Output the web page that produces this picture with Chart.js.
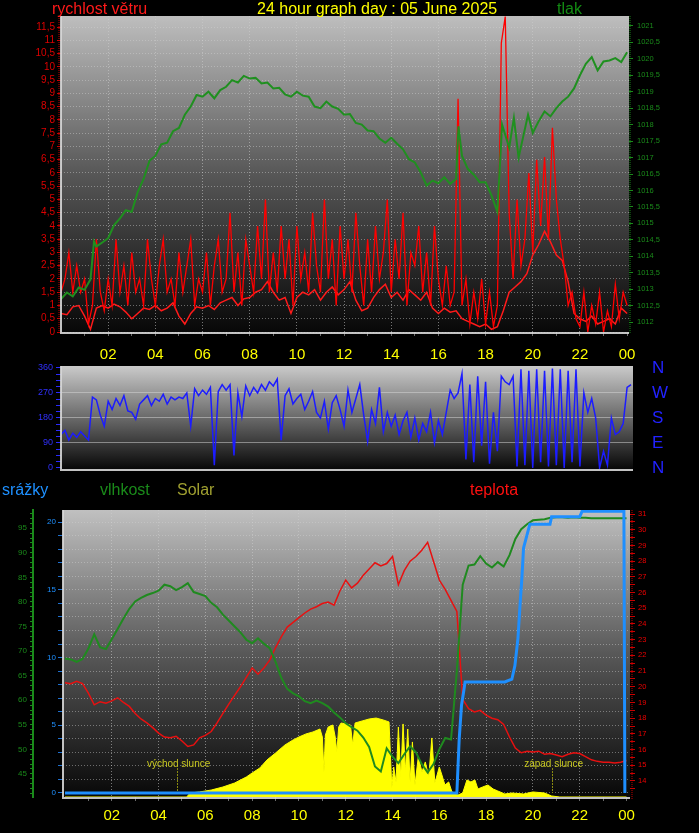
<!DOCTYPE html>
<html><head><meta charset="utf-8">
<script src="https://cdn.jsdelivr.net/npm/chart.js@4/dist/chart.umd.min.js"></script>
<style>
html,body{margin:0;padding:0;background:#000;width:699px;height:833px;overflow:hidden;}
canvas{position:absolute;left:0;}
.t{position:absolute;font-family:Arial,"Liberation Sans",sans-serif;font-size:16px;line-height:16px;white-space:nowrap;}
</style></head><body>
<canvas id="c1" style="top:0" width="699" height="365"></canvas>
<canvas id="c2" style="top:340px" width="699" height="150"></canvas>
<canvas id="c3" style="top:480px" width="699" height="353"></canvas>
<div class="t" style="left:52px;top:1px;color:#ff1a1a">rychlost větru</div>
<div class="t" style="left:257px;top:1px;color:#ffff00">24 hour graph day : 05 June 2025</div>
<div class="t" style="left:557px;top:1px;color:#138a13">tlak</div>
<div class="t" style="left:2px;top:482px;color:#1e90ff">srážky</div>
<div class="t" style="left:100px;top:482px;color:#1a8a1a">vlhkost</div>
<div class="t" style="left:177px;top:482px;color:#a0a030">Solar</div>
<div class="t" style="left:470px;top:482px;color:#ff1010">teplota</div>
<script>
// ---------- DATA ----------
const hourTicks = [1,2,3,4,5,6,7,8,9,10,11,12,13,14,15,16,17,18,19,20,21,22,23,24];
const hourLabels = {2:'02',4:'04',6:'06',8:'08',10:'10',12:'12',14:'14',16:'16',18:'18',20:'20',22:'22',24:'00'};

// wind gusts, every 10 minutes (m/s)
const windGust = [
 1.5,2.0,3.0,1.5,2.5,1.5, 2.0,0.3,1.0,3.5,1.5,0.8, 2.0,1.0,3.5,1.5,2.5,1.0, 3.0,1.5,2.0,1.0,3.5,2.0,
 1.0,2.5,3.5,1.5,2.0,1.0, 3.0,1.5,2.5,3.5,1.0,2.0, 1.5,3.0,1.0,2.5,3.5,1.5, 2.0,4.5,1.5,3.0,1.0,3.5,
 2.5,1.5,4.0,2.0,5.0,1.5, 3.0,1.5,4.0,2.0,3.5,1.0, 4.0,2.0,3.0,1.5,4.5,2.5, 1.5,5.0,2.0,3.5,1.0,4.0,
 2.0,3.5,1.5,4.5,2.5,1.0, 3.5,1.5,4.0,2.0,3.0,5.0, 1.5,3.5,2.0,4.5,1.0,3.0, 2.5,4.0,1.5,3.0,1.0,4.0,
 2.0,1.0,2.5,1.0,1.5,8.8, 1.0,2.0,0.3,1.5,0.5,2.0, 0.3,1.5,0.2,1.0,10.9,11.9, 4.5,2.0,5.0,2.5,3.5,6.0,
 3.0,6.5,4.0,6.6,3.5,7.7, 5.0,3.5,2.5,1.0,1.5,0.5, 0.2,1.5,0.0,1.0,0.3,1.5, 0.0,0.8,0.2,1.8,0.5,1.5,
 1.0];
// average wind, every 15 minutes (m/s)
const windAvg = [
 0.7,0.65,0.95,1.0, 0.6,0.1,0.9,1.0, 0.9,1.05,0.95,0.75, 0.5,0.7,0.9,0.85, 1.0,0.8,0.9,1.1, 0.6,0.3,0.7,0.95,
 0.9,1.0,0.85,1.1, 1.2,1.3,1.0,1.25, 1.3,1.5,1.6,1.9, 1.5,1.2,1.3,0.7, 1.3,1.5,1.4,1.6, 1.2,1.5,1.7,1.4,
 1.6,1.9,1.2,0.8, 0.9,1.3,1.6,1.8, 1.3,1.5,1.2,1.6, 1.4,1.2,1.5,0.9, 0.7,0.9,0.75,0.8, 0.5,0.4,0.3,0.2,
 0.3,0.1,0.2,0.8, 1.5,1.7,1.9,2.2, 2.9,3.3,3.8,3.4, 2.9,2.7,1.9,0.7, 0.5,0.4,0.6,0.3, 0.4,0.5,0.3,0.9,
 0.7];
// pressure [hour, hPa]
const pressure = [
 [0,1012.70],[0.25,1012.90],[0.5,1012.78],[0.75,1013.05],[1,1012.98],[1.25,1013.30],[1.4,1014.45],[1.5,1014.30],
 [1.75,1014.42],[2,1014.55],[2.25,1014.95],[2.5,1015.15],[2.75,1015.40],[3,1015.35],[3.25,1015.95],[3.5,1016.35],
 [3.75,1016.90],[4,1017.05],[4.25,1017.40],[4.5,1017.45],[4.75,1017.80],[5,1017.90],[5.25,1018.30],[5.5,1018.55],
 [5.75,1018.90],[6,1018.85],[6.25,1019.00],[6.5,1018.80],[6.75,1019.05],[7,1019.15],[7.25,1019.35],[7.5,1019.28],
 [7.75,1019.48],[8,1019.40],[8.25,1019.42],[8.5,1019.25],[8.75,1019.28],[9,1019.10],[9.25,1019.12],[9.5,1018.92],
 [9.75,1018.85],[10,1019.00],[10.25,1018.88],[10.5,1018.85],[10.75,1018.55],[11,1018.50],[11.25,1018.70],[11.5,1018.55],
 [11.75,1018.48],[12,1018.30],[12.25,1018.32],[12.5,1018.05],[12.75,1018.00],[13,1017.82],[13.25,1017.80],[13.5,1017.58],
 [13.75,1017.45],[14,1017.60],[14.25,1017.42],[14.5,1017.25],[14.75,1016.95],[15,1016.85],[15.25,1016.55],[15.5,1016.15],
 [15.75,1016.30],[16,1016.22],[16.25,1016.40],[16.5,1016.20],[16.75,1016.35],[16.85,1017.95],[17,1017.05],[17.25,1016.65],
 [17.5,1016.48],[17.75,1016.25],[18,1016.25],[18.25,1015.85],[18.5,1015.35],[18.7,1018.00],[19,1017.30],[19.2,1018.20],
 [19.4,1017.00],[19.6,1017.65],[19.8,1018.30],[20,1017.75],[20.25,1018.10],[20.5,1018.40],[20.75,1018.25],[21,1018.50],
 [21.25,1018.70],[21.5,1018.85],[21.75,1019.10],[22,1019.50],[22.25,1019.85],[22.5,1020.05],[22.75,1019.65],[23,1019.92],
 [23.25,1019.95],[23.5,1020.02],[23.75,1019.90],[24,1020.20]];
// wind direction, every 10 minutes (degrees)
const windDir = [
 120,135,100,125,110,130, 115,100,255,245,190,150, 240,210,250,225,260,205, 200,175,230,245,260,225,
 250,240,265,230,255,245, 255,250,270,150,285,260, 280,265,290,10,275,300, 280,300,45,270,185,295,
 260,290,270,300,280,310, 295,320,100,260,285,230, 250,265,210,240,275,200, 180,240,140,235,260,210,
 150,280,200,250,300,190, 95,210,160,290,130,200, 150,190,120,170,200,110, 180,100,160,130,200,90,
 170,120,200,280,250,270, 340,30,300,20,330,80, 310,15,200,60,330,310, 300,330,5,355,10,350,
 0,355,20,350,5,358, 10,355,0,350,20,355, 5,270,200,250,180,0, 60,10,180,120,130,160,
 290,300];
// humidity, every 15 minutes (%)
const humidity = [
 68.5,68.3,67.8,68.4, 70.5,73.4,70.8,70.4, 72.4,74.5,76.6,78.6, 80.1,80.8,81.4,81.8, 82.3,83.5,83.2,82.4,
 83.0,83.8,82.0,81.6, 81.2,79.8,78.9,77.4, 76.2,75.0,73.8,72.3, 71.6,72.6,71.5,70.6, 67.8,64.5,62.3,61.4,
 60.8,59.8,59.4,59.9, 59.4,58.7,57.5,56.5, 55.3,54.5,53.8,52.4, 50.5,46.5,45.5,50.2, 48.5,47.2,49.0,50.6,
 49.4,47.0,45.3,47.0, 50.0,52.3,52.0,66.0, 83.5,87.4,87.6,89.3, 87.8,87.0,88.1,87.2, 89.5,92.8,94.8,95.8,
 96.6,96.7,96.8,97.1, 97.2,97.2,97.1,97.2, 97.1,97.1,97.0,97.0, 97.0,97.0,97.0,97.0, 97.0];
// temperature, every 15 minutes (°C)
const temperature = [
 20.25,20.2,20.35,20.2, 19.6,18.85,19.05,18.95, 19.1,19.3,19.0,18.75, 18.3,17.95,17.7,17.4, 17.05,16.8,16.75,16.85,
 16.55,16.2,16.3,16.75, 16.9,17.15,17.7,18.3, 18.9,19.45,20.0,20.6, 21.2,20.8,21.2,21.7, 22.5,23.2,23.8,24.1,
 24.4,24.7,24.95,25.1, 25.3,25.4,25.2,26.1, 26.8,26.3,26.6,27.1, 27.5,27.9,27.7,27.85, 28.3,26.5,27.4,28.0,
 28.3,28.7,29.2,28.0, 26.8,26.2,25.5,24.8, 19.2,18.6,18.4,18.5, 18.2,18.0,17.9,17.6, 16.8,16.1,15.8,15.9,
 15.85,15.9,15.7,15.75, 15.65,15.55,15.7,15.8, 15.75,15.55,15.35,15.25, 15.2,15.2,15.15,15.2, 15.3];
// rain total [hour, mm]
const rain = [
 [0,0],[16.75,0],[16.85,4.0],[16.95,6.5],[17.05,7.6],[17.1,8.2],[18.8,8.2],[19.1,8.4],[19.23,9.4],[19.36,11.4],
 [19.45,13.9],[19.53,15.9],[19.6,18.1],[19.74,19.0],[19.87,19.85],[20.73,19.85],[20.8,20.4],[22.0,20.4],[22.1,20.8],
 [23.89,20.8],[23.93,0]];
// solar radiation [hour, W/m2]
const solar = [
 [0,0],[5.2,0],[5.35,46],[5.75,58],[6.25,80],[6.75,115],[7.25,161],[7.75,230],[8.0,276],[8.33,334],[8.63,425],
 [9.0,506],[9.4,598],[9.75,656],[10.0,690],[10.3,725],[10.6,748],[10.9,782],[11.0,690],[11.07,288],[11.13,713],
 [11.25,805],[11.45,828],[11.55,690],[11.62,518],[11.7,805],[11.8,851],[12.0,840],[12.2,828],[12.3,598],[12.4,851],
 [12.7,874],[13.0,897],[13.3,908],[13.6,886],[13.85,863],[13.97,104],[14.05,345],[14.15,173],[14.25,805],[14.35,230],
 [14.45,840],[14.55,288],[14.65,782],[14.75,173],[14.85,633],[14.96,138],[15.1,460],[15.26,288],[15.4,403],[15.55,230],
 [15.68,679],[15.81,161],[16.0,345],[16.11,253],[16.24,138],[16.4,173],[16.54,58],[16.8,23],[17.0,46],[17.18,196],
 [17.35,173],[17.52,196],[17.65,92],[17.85,115],[18.08,138],[18.3,92],[18.5,69],[18.8,35],[19.1,46],[19.6,35],
 [20.0,58],[20.5,46],[20.8,12],[21.15,0],[24,0]];
const sunriseHour = 4.77, sunsetHour = 20.8;

// tick lists
const windTicks = [0,0.5,1,1.5,2,2.5,3,3.5,4,4.5,5,5.5,6,6.5,7,7.5,8,8.5,9,9.5,10,10.5,11,11.5];
const pressureTicks = [1012,1012.5,1013,1013.5,1014,1014.5,1015,1015.5,1016,1016.5,1017,1017.5,1018,1018.5,1019,1019.5,1020,1020.5,1021];
const dirLabelTicks = [0,90,180,270,360];
const compassLabels = {0:'N',90:'E',180:'S',270:'W',360:'N'};
const rainLabelTicks = [0,5,10,15,20];
const humidityLabelTicks = [45,50,55,60,65,70,75,80,85,90,95];

// ---------- HELPERS ----------
const FONT = 'Arial, "Liberation Sans", sans-serif';
Chart.defaults.font.family = FONT;
const range = (a,b,s)=>{const r=[];for(let v=a;v<=b+1e-9;v+=s)r.push(Math.round(v*100)/100);return r;};
const comma = v => String(v).replace('.',',');
const at10 = (arr)=>arr.map((v,i)=>({x:i/6,y:v}));
const at15 = (arr)=>arr.map((v,i)=>({x:i/4,y:v}));
const pairs = (arr)=>arr.map(p=>({x:p[0],y:p[1]}));

const framePlugin = {
  id:'frame',
  beforeDraw(chart,args,o){
    const {ctx, chartArea:a}=chart;
    const g=ctx.createLinearGradient(0,a.top,0,a.bottom);
    g.addColorStop(0,o.top); g.addColorStop(0.5,o.mid); g.addColorStop(1,o.bottom);
    ctx.save(); ctx.fillStyle=g; ctx.fillRect(a.left,a.top,a.right-a.left,a.bottom-a.top); ctx.restore();
  },
  afterDraw(chart,args,o){
    const {ctx, chartArea:a}=chart;
    ctx.save();
    ctx.strokeStyle='rgba(215,215,215,0.9)'; ctx.lineWidth=2;
    ctx.beginPath(); ctx.moveTo(a.left,a.top); ctx.lineTo(a.left,a.bottom+1); ctx.lineTo(a.right,a.bottom+1); ctx.stroke();
    (o.lines||[]).forEach(l=>{
      ctx.strokeStyle=l.color; ctx.lineWidth=l.w||1; ctx.setLineDash(l.dash||[]);
      ctx.beginPath(); ctx.moveTo(l.side==='left'?a.left+l.off:a.right+l.off,a.top);
      ctx.lineTo(l.side==='left'?a.left+l.off:a.right+l.off,a.bottom+2); ctx.stroke();
    });
    ctx.restore();
  }
};
const sunPlugin = {
  id:'sun',
  beforeDatasetsDraw(chart,args,o){
    if(!o.items) return;
    const {ctx}=chart, xs=chart.scales.x;
    ctx.save();
    o.items.forEach(it=>{
      const x=xs.getPixelForValue(it.hour);
      ctx.strokeStyle='#8a8a10'; ctx.lineWidth=1; ctx.setLineDash([2,1]);
      ctx.beginPath(); ctx.moveTo(Math.round(x)+0.5,o.lineTop); ctx.lineTo(Math.round(x)+0.5,o.lineBottom); ctx.stroke();
      ctx.fillStyle='#c8c820'; ctx.font='10px '+FONT; ctx.textAlign='center'; ctx.textBaseline='middle';
      ctx.fillText(it.text,x+2,o.textY);
    });
    ctx.restore();
  }
};

function xAxis(min,max,h,pad,show){
  return {type:'linear',min,max,position:'bottom',display:show,
    afterBuildTicks:s=>{s.ticks=hourTicks.map(v=>({value:v}));},
    afterFit:s=>{s.height=h;s.paddingLeft=0;s.paddingRight=0;},
    ticks:{autoSkip:false,maxRotation:0,color:'#ffff00',font:{size:15},padding:pad,
      callback:v=>hourLabels[v]||''},
    grid:{color:c=>(c.tick&&c.tick.value%2===0&&c.tick.value<24)?'rgba(205,205,205,0.55)':'rgba(0,0,0,0)',
      tickColor:'#6a6a6a',tickLength:4,lineWidth:1},
    border:{display:false,dash:[1,2]}};
}
function yAxis(o){
  return {type:'linear',position:o.pos,min:o.min,max:o.max,weight:o.weight||0,display:o.display!==false,
    afterBuildTicks:s=>{s.ticks=o.ticks.map(v=>({value:v}));},
    afterFit:s=>{s.width=o.width;s.paddingTop=0;s.paddingBottom=0;},
    ticks:{autoSkip:false,color:o.color,font:{size:o.size},padding:o.pad,callback:o.label},
    grid:{drawOnChartArea:!!o.gridColor,color:o.gridColor||'rgba(0,0,0,0)',tickColor:o.tickColor,
      tickLength:o.tl,drawTicks:o.tl>0,lineWidth:1},
    border:o.border||{display:false,dash:o.dash||[]}};
}
const noPlug = {legend:{display:false},tooltip:{enabled:false}};

// ---------- TOP: wind + pressure ----------
new Chart(document.getElementById('c1'),{
  type:'line',
  data:{datasets:[
    {label:'tlak',data:pairs(pressure),yAxisID:'yP',borderColor:'#1f901f',borderWidth:2,pointRadius:0,order:0},
    {label:'nárazy',data:at10(windGust),yAxisID:'yW',borderColor:'#ff0000',borderWidth:1.3,pointRadius:0,order:1},
    {label:'průměr',data:at15(windAvg),yAxisID:'yW',borderColor:'#ff1a1a',borderWidth:1.5,pointRadius:0,order:2}
  ]},
  options:{responsive:false,animation:false,layout:{padding:{top:16,left:0,right:0,bottom:0}},
    plugins:{...noPlug,frame:{top:'#bebebe',mid:'#575757',bottom:'#080808',
      lines:[{side:'left',off:-2,color:'#c00000',dash:[1,1]},{side:'right',off:1,color:'#1a8a1a',dash:[1,1]}]}},
    scales:{
      x:xAxis(0,24.08,33,10,true),
      yW:yAxis({pos:'left',min:0,max:11.92,ticks:windTicks,width:61,color:'#dd0000',size:10,pad:2,tl:4,
        tickColor:'#cc0000',label:v=>comma(v),gridColor:'rgba(210,210,210,0.45)',dash:[1,2]}),
      yP:yAxis({pos:'right',min:1011.7,max:1021.3,ticks:pressureTicks,width:70,color:'#1a8a1a',size:7.5,pad:4,tl:4,
        tickColor:'#1a8a1a',label:v=>comma(v)})
    }},
  plugins:[framePlugin]
});

// ---------- MIDDLE: wind direction ----------
new Chart(document.getElementById('c2'),{
  type:'line',
  data:{datasets:[
    {label:'směr',data:at10(windDir),yAxisID:'yD',borderColor:'#1c1cff',borderWidth:1.5,pointRadius:0}
  ]},
  options:{responsive:false,animation:false,layout:{padding:{top:26,left:0,right:0,bottom:21}},
    plugins:{...noPlug,frame:{top:'#cacaca',mid:'#6a6a6a',bottom:'#080808'}},
    scales:{
      x:{type:'linear',min:0,max:24.25,display:false},
      yD:yAxis({pos:'left',min:-4,max:367,ticks:range(0,360,22.5),width:61,color:'#3030ff',size:9,pad:3,tl:5,
        tickColor:'#2a2aff',label:v=>dirLabelTicks.includes(v)?String(v):'',
        gridColor:c=>(c.tick&&[90,180,270].includes(c.tick.value))?'rgba(215,215,215,0.5)':'rgba(0,0,0,0)'}),
      yC:yAxis({pos:'right',min:-4,max:367,ticks:dirLabelTicks,width:66,color:'#2222ff',size:17,pad:19,tl:0,
        tickColor:'#2222ff',label:v=>compassLabels[v]})
    }},
  plugins:[framePlugin]
});

// ---------- BOTTOM: rain, humidity, solar, temperature ----------
new Chart(document.getElementById('c3'),{
  type:'line',
  data:{datasets:[
    {label:'srážky',data:pairs(rain),yAxisID:'yR',borderColor:'#1e8fff',borderWidth:3,pointRadius:0,order:0},
    {label:'vlhkost',data:at15(humidity),yAxisID:'yH',borderColor:'#1f8a1f',borderWidth:2,pointRadius:0,order:1},
    {label:'teplota',data:at15(temperature),yAxisID:'yT',borderColor:'#e81010',borderWidth:1.5,pointRadius:0,order:2},
    {label:'Solar',data:pairs(solar),yAxisID:'yS',borderColor:'#ffff00',backgroundColor:'#ffff00',borderWidth:1,
      pointRadius:0,fill:'origin',order:3}
  ]},
  options:{responsive:false,animation:false,layout:{padding:{top:30,left:0,right:0,bottom:0}},
    plugins:{...noPlug,filler:{propagate:false},
      frame:{top:'#c0c0c0',mid:'#585858',bottom:'#080808',lines:[{side:'right',off:2,color:'#c00000',dash:[1,1]}]},
      sun:{textY:284,lineTop:288,lineBottom:313,items:[{hour:sunriseHour,text:'východ slunce'},{hour:sunsetHour,text:'západ slunce'}]}},
    scales:{
      x:xAxis(-0.085,24.15,36,6,true),
      yH:yAxis({pos:'left',weight:1,min:40.3,max:98.7,ticks:range(41,98,1),width:33,color:'#1a8a1a',size:8,pad:3,tl:3,
        tickColor:'#1a8a1a',label:v=>humidityLabelTicks.includes(v)?String(v):'',
        border:{display:true,color:'#1a8a1a',width:2}}),
      yR:yAxis({pos:'left',weight:0,min:-0.3,max:20.9,ticks:range(0,20,1),width:30,color:'#1e90ff',size:8,pad:2,tl:5,
        tickColor:'#1e70d0',label:v=>rainLabelTicks.includes(v)?String(v):'',gridColor:'rgba(210,210,210,0.45)',dash:[1,2]}),
      yT:yAxis({pos:'right',min:12.98,max:31.26,ticks:range(13.5,31,0.5),width:69,color:'#ee0000',size:7.5,pad:3,tl:5,
        tickColor:'#cc0000',label:v=>(Number.isInteger(v)&&v>=14)?String(v):''}),
      yS:{type:'linear',min:0,max:3300,display:false}
    }},
  plugins:[framePlugin,sunPlugin]
});
</script>
</body></html>
